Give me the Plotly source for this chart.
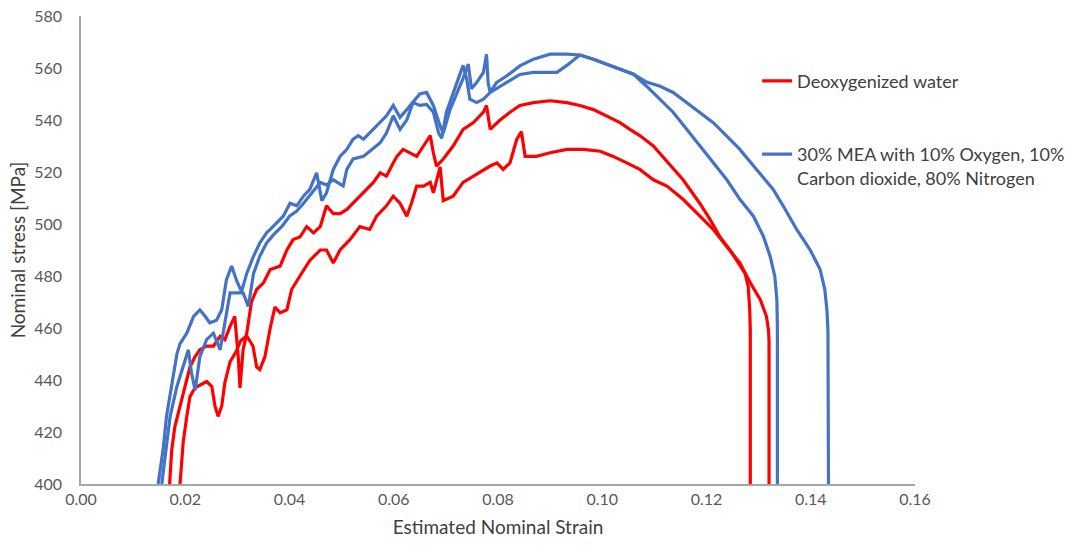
import plotly.graph_objects as go

# ---- data (strain [-], stress [MPa]) ----
red1_strain = [0.0170,0.0174,0.0180,0.0190,0.0200,0.0209,0.0219,0.0228,0.0241,0.0254,0.0267,0.0276,0.0286,0.0295,0.0302,0.0305,0.0311,0.0318,0.0327,0.0337,0.0350,0.0363,0.0382,0.0395,0.0407,0.0420,0.0433,0.0446,0.0459,0.0471,0.0484,0.0497,0.0510,0.0522,0.0542,0.0561,0.0574,0.0586,0.0599,0.0606,0.0618,0.0631,0.0644,0.0657,0.0670,0.0676,0.0682,0.0695,0.0714,0.0733,0.0753,0.0772,0.0778,0.0785,0.0804,0.0823,0.0842,0.0868,0.0900,0.0932,0.0957,0.0983,0.1009,0.1034,0.1053,0.1072,0.1098,0.1124,0.1155,0.1187,0.1207,0.1226,0.1245,0.1261,0.1274,0.1280,0.1283,0.1284,0.1284]
red1_stress = [400,413,422,430,437.5,445,449,451.6,453,453,456.8,455.5,460.6,464.5,448,437,451.6,458,470,474.8,477.4,482.5,483.8,490,494,495,499,496.6,499,507,504,504,505.6,508,512,516,519.7,518.4,523.5,526,528.7,527.4,526,530,534,527.4,522.3,525,530,536.4,539,543,545.6,536.4,540,543,545.6,546.7,547.4,546.7,545.6,544,541.6,539,536.4,534,530,524,517,508,501.7,495,490,485,481,476,467,459,400]

red2_strain = [0.0190,0.0196,0.0203,0.0209,0.0219,0.0241,0.0251,0.0257,0.0263,0.0270,0.0276,0.0286,0.0298,0.0306,0.0318,0.0330,0.0337,0.0343,0.0353,0.0363,0.0372,0.0382,0.0395,0.0404,0.0420,0.0439,0.0459,0.0471,0.0484,0.0497,0.0516,0.0535,0.0554,0.0567,0.0586,0.0599,0.0612,0.0625,0.0634,0.0644,0.0657,0.0670,0.0676,0.0689,0.0695,0.0714,0.0733,0.0753,0.0765,0.0785,0.0798,0.0810,0.0823,0.0836,0.0845,0.0852,0.0874,0.0900,0.0932,0.0964,0.0996,0.1021,0.1047,0.1072,0.1098,0.1124,0.1155,0.1187,0.1213,0.1238,0.1264,0.1284,0.1303,0.1315,0.1319,0.1320,0.1320]
red2_stress = [400,416,426,433.6,437,439.4,437.5,430,426,430,439,447,451,455,457,453,445,444,449,460,468,465.8,467,474.8,480,486,490,490,485,490,494,499,497.9,503,507,510.7,508,503,508,514.6,514.6,516,512,522,509,510.7,516,518.4,519.7,522.3,523.5,521,523.5,532.6,535.5,526,526,527.4,528.7,528.7,528,526,523.5,521,517,514.6,509.5,503,497.9,491.5,485,477.4,471,464.5,459,455,400]

blue1_strain = [0.0148,0.0158,0.0164,0.0174,0.0184,0.0190,0.0203,0.0216,0.0228,0.0238,0.0247,0.0260,0.0270,0.0279,0.0289,0.0299,0.0308,0.0318,0.0331,0.0343,0.0356,0.0363,0.0375,0.0388,0.0401,0.0414,0.0427,0.0439,0.0452,0.0462,0.0471,0.0484,0.0497,0.0510,0.0522,0.0532,0.0542,0.0554,0.0567,0.0586,0.0599,0.0612,0.0625,0.0637,0.0650,0.0663,0.0676,0.0689,0.0695,0.0708,0.0721,0.0733,0.0743,0.0749,0.0759,0.0772,0.0778,0.0781,0.0785,0.0797,0.0817,0.0842,0.0868,0.0900,0.0932,0.0957,0.0983,0.1009,0.1034,0.1060,0.1085,0.1111,0.1136,0.1162,0.1187,0.1213,0.1239,0.1264,0.1296,0.1328,0.1347,0.1373,0.1399,0.1418,0.1427,0.1431,0.1433,0.1434]
blue1_stress = [400,414,426,437.5,450,454,458,464.5,467,464.5,462,463,467,478.6,483.8,478,474,481,487.6,492.7,496.6,497.9,500.5,503,508,507,510.8,513.3,519.7,509,512,521,526,528.7,532.6,534,532.6,535,537.7,541.6,545.6,541,544,547,550,550.6,545.6,537.7,535,544,550,556,561.5,552,554.4,558.3,565.3,554.4,550.6,554.4,557,560.8,563.4,565.3,565.3,565,563.4,561.5,559.5,557.6,554.6,553,550.6,546.7,543,539,533.8,528.7,521,513.3,507,497.9,490,482.5,474.8,467,459,400]

blue2_strain = [0.0155,0.0162,0.0171,0.0184,0.0196,0.0206,0.0212,0.0219,0.0228,0.0241,0.0254,0.0267,0.0276,0.0286,0.0299,0.0311,0.0321,0.0331,0.0343,0.0356,0.0370,0.0385,0.0400,0.0414,0.0427,0.0439,0.0452,0.0459,0.0471,0.0484,0.0503,0.0510,0.0522,0.0542,0.0554,0.0567,0.0574,0.0586,0.0599,0.0612,0.0625,0.0637,0.0650,0.0663,0.0676,0.0686,0.0692,0.0701,0.0714,0.0727,0.0733,0.0740,0.0746,0.0759,0.0772,0.0785,0.0817,0.0842,0.0868,0.0913,0.0932,0.0951,0.0957,0.0983,0.1009,0.1034,0.1060,0.1085,0.1111,0.1136,0.1162,0.1187,0.1213,0.1239,0.1264,0.1290,0.1309,0.1322,0.1331,0.1335,0.1336,0.1336]
blue2_stress = [400,412,426,437.5,445,451.6,442.7,436,449,455.5,458,451.6,462,473.5,473.5,473.5,468.3,481,487.6,492.7,496,499,503,505,508,511,514,516,515,517,514.6,521,525,526,528,530,531.3,535,541.6,536.4,540,546.7,545.6,546,543,535,533,543,550.6,558.3,561,555.7,548,546.7,548,550.6,554.4,557.5,558.3,558.3,561,564,565,563.4,561.5,559.5,557.6,553,548,543,536.4,530,523.5,517,509.5,503,495.3,487.6,479.9,471,460,400]

series_names = ["Deoxygenized water",
                "30% MEA with 10% Oxygen, 10%<br>Carbon dioxide, 80% Nitrogen"]
x_ticks = [0.00, 0.02, 0.04, 0.06, 0.08, 0.10, 0.12, 0.14, 0.16]
y_ticks = [400, 420, 440, 460, 480, 500, 520, 540, 560, 580]

RED = "#ff0000"
BLUE = "#4472c4"

fig = go.Figure()
traces = [
    (red1_strain, red1_stress, RED, "red", True, series_names[0]),
    (red2_strain, red2_stress, RED, "red", False, series_names[0]),
    (blue1_strain, blue1_stress, BLUE, "blue", True, series_names[1]),
    (blue2_strain, blue2_stress, BLUE, "blue", False, series_names[1]),
]
for xs, ys, col, grp, show, name in traces:
    fig.add_trace(go.Scatter(x=xs, y=ys, mode="lines", name=name,
                             line=dict(color=col, width=3.2),
                             legendgroup=grp, showlegend=show))

fig.update_layout(
    width=1089, height=547,
    margin=dict(l=81, r=174, t=16, b=63, autoexpand=False),
    paper_bgcolor="white", plot_bgcolor="white",
    font=dict(family="Lato, 'Open Sans', sans-serif", color="#595959", size=16),
    showlegend=True,
    legend=dict(x=0.8107, y=0.9004, xanchor="left", yanchor="top",
                bgcolor="rgba(0,0,0,0)", font=dict(size=18, color="#404040"),
                tracegroupgap=47, valign="top", itemwidth=30),
    xaxis=dict(range=[0, 0.16], tickvals=x_ticks, tickformat=".2f",
               showgrid=False, zeroline=False, showline=True,
               linecolor="#a6a6a6", linewidth=1.5, ticks="",
               title=dict(text="Estimated Nominal Strain", font=dict(size=19, color="#404040"), standoff=14),
               tickfont=dict(size=16, color="#595959")),
    yaxis=dict(range=[400, 580], tickvals=y_ticks,
               showgrid=False, zeroline=False, showline=True,
               linecolor="#a6a6a6", linewidth=1.5, ticks="",
               ticklabelstandoff=14,
               title=dict(text="Nominal stress [MPa]", font=dict(size=19, color="#404040"), standoff=4),
               tickfont=dict(size=16, color="#595959")),
)

fig.write_html("out.html")
